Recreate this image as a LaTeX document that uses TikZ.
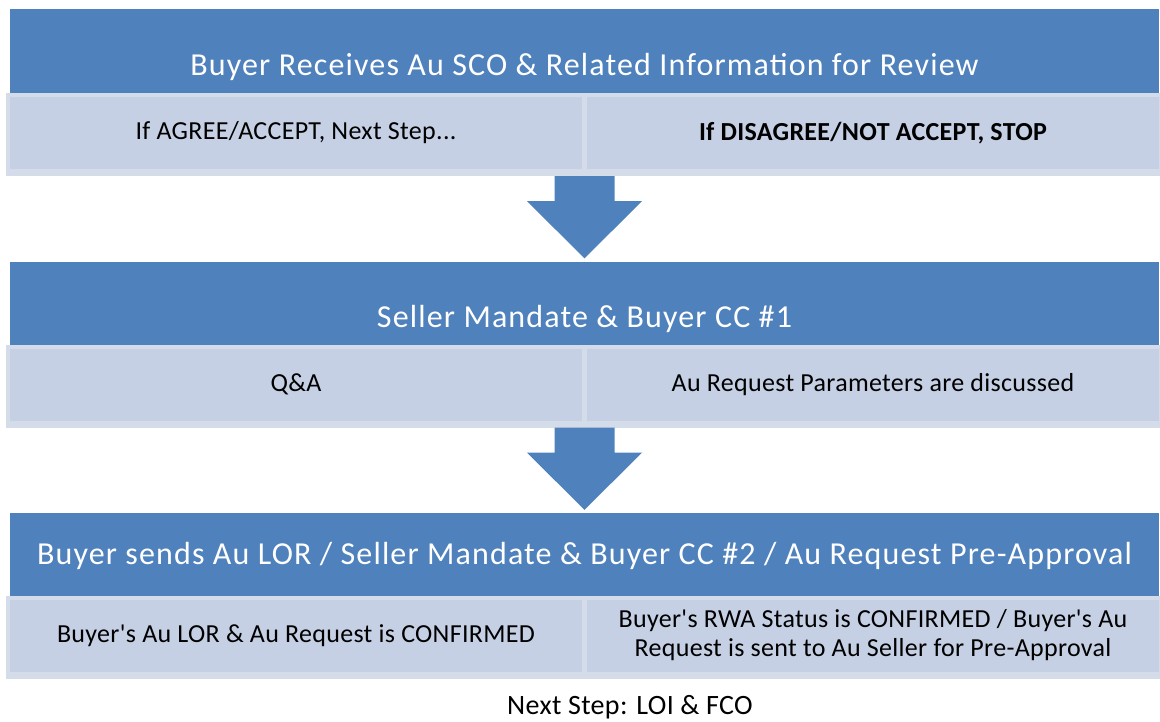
\documentclass[tikz,border=0pt]{standalone}
\usepackage{fontspec}
\setmainfont{Carlito}[LetterSpace=1.2, Ligatures=TeXOff]
\newfontfamily\headfont{Carlito}[LetterSpace=3.6]
\usetikzlibrary{calc}
\definecolor{hdblue}{HTML}{4F81BD}
\definecolor{cellblue}{HTML}{C5D0E4}
\definecolor{rimblue}{HTML}{D4DCEA}

\begin{document}
\begin{tikzpicture}[x=1pt, y=-1pt,
  head/.style={fill=hdblue, inner sep=0, minimum width=1149pt, minimum height=84pt},
  headtext/.style={text=white, inner sep=0, anchor=base, font=\headfont\fontsize{32}{36}\selectfont},
  rim/.style={fill=rimblue, inner sep=0, minimum width=1154pt, minimum height=83pt},
  cell/.style={fill=cellblue, inner sep=0, minimum width=572pt, minimum height=72pt,
    align=center, font=\fontsize{26}{29}\selectfont},
  blockarrow/.style={fill=hdblue}]
\useasboundingbox (0,0) rectangle (1160,721);
% step 1
\node[head] (h1) at (584.5,51) {};
\node[headtext] (t1) at (584.5,75) {Buyer Receives Au SCO \& Related Information for Review};
\node[rim] (r1) at (583,134.5) {};
\node[cell] (c1a) at (296,133) {If AGREE/ACCEPT, Next Step...};
\node[cell] (c1b) at (873,133) {\bfseries If DISAGREE/NOT ACCEPT, STOP};
% step 2
\node[head] (h2) at (584.5,303.5) {};
\node[headtext] (t2) at (584.5,327) {Seller Mandate \& Buyer CC \#1};
\node[rim] (r2) at (583,386) {};
\node[cell] (c2a) at (296,384.5) {Q\&A};
\node[cell] (c2b) at (873,384.5) {Au Request Parameters are discussed};
% step 3
\node[head] (h3) at (584.5,555) {};
\node[headtext] (t3) at (584.5,564) {Buyer sends Au LOR / Seller Mandate \& Buyer CC \#2 / Au Request Pre-Approval};
\node[rim] (r3) at (583,637) {};
\node[cell] (c3a) at (296,635.5) {Buyer's Au LOR \& Au Request is CONFIRMED};
\node[cell] (c3b) at (873,635.5) {Buyer's RWA Status is CONFIRMED / Buyer's Au\\Request is sent to Au Seller for Pre-Approval};
\node[anchor=base, inner sep=0, font=\fontsize{28}{30}\selectfont] (next) at (630,714) {Next Step: LOI \& FCO};
% arrows between the steps
\foreach \s/\t in {r1/h2, r2/h3}
  \fill[blockarrow] ($(\s.south -| h1.south)+(-30,0)$) -- ($(\s.south -| h1.south)+(30,0)$)
    -- ($(\s.south -| h1.south)+(30,25)$) -- ($(\s.south -| h1.south)+(57.5,25)$)
    -- ($(\t.north)+(0,-3)$) -- ($(\s.south -| h1.south)+(-57.5,25)$)
    -- ($(\s.south -| h1.south)+(-30,25)$) -- cycle;
\end{tikzpicture}
\end{document}
